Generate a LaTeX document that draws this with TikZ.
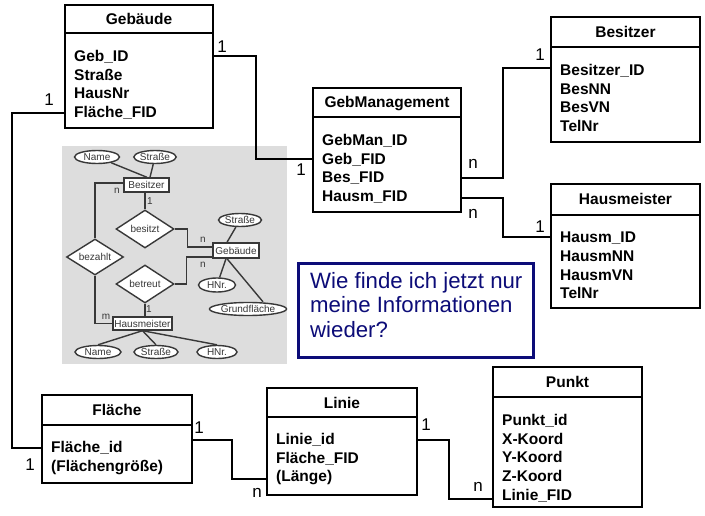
\documentclass[tikz,border=0pt]{standalone}
\usepackage{fontspec}
\setmainfont{Liberation Sans}
\usepackage{tikz}
\usetikzlibrary{positioning,shapes.geometric,calc}
\definecolor{navyq}{HTML}{0C0C78}
\definecolor{ergray}{HTML}{DDDDDD}
\definecolor{erink}{HTML}{383838}
\tikzset{
  tablehead/.style={
    rectangle, draw=black, line width=2pt, fill=white,
    outer sep=0pt, inner sep=0pt,
    font=\fontsize{15.5}{18.7}\selectfont\bfseries,
    text height=11pt, text depth=0pt
  },
  tablebody/.style={
    rectangle, draw=black, line width=2pt, fill=white,
    outer sep=0pt, inner sep=0pt
  },
  attrtext/.style={
    anchor=north west, inner sep=0pt, align=left,
    font=\fontsize{15.5}{18.7}\selectfont\bfseries
  },
  relline/.style={line width=1.6pt, draw=black},
  cardlabel/.style={font=\fontsize{17}{17}\selectfont, inner sep=0pt},
  % -- small ER sketch --
  erentity/.style={
    rectangle, draw=erink, line width=1.4pt, fill=white, inner sep=0pt,
    font=\fontsize{10}{11}\selectfont, text=erink
  },
  errel/.style={
    diamond, aspect=1.6, draw=erink, line width=1.4pt, fill=white,
    inner sep=0pt, minimum width=57pt, minimum height=36pt,
    font=\fontsize{10}{11}\selectfont, text=erink
  },
  erattr/.style={
    ellipse, draw=erink, line width=1.4pt, fill=white, inner sep=0pt,
    minimum height=13pt, font=\fontsize{10}{11}\selectfont, text=erink
  },
  erline/.style={line width=1.4pt, draw=erink},
  ercard/.style={font=\fontsize{10}{11}\selectfont, text=erink, inner sep=0pt},
  questbox/.style={rectangle, draw=navyq, line width=3pt, fill=white},
  questtext/.style={
    anchor=north west, inner sep=0pt, align=left, text=navyq,
    font=\fontsize{22.2}{24.5}\selectfont
  },
}
\begin{document}
\begin{tikzpicture}[x=1pt, y=-1pt]
\fill[white] (0,0) rectangle (705,516);
\useasboundingbox (0,0) rectangle (705,516);

% grey panel of the ER sketch, under the relation lines
\fill[ergray] (62,146) rectangle (287,364);

% Tables
\node[tablehead, minimum width=148pt, minimum height=28pt, anchor=north west] (geb) at (65,5) {Gebäude};
\node[tablebody, minimum width=148pt, minimum height=95pt, below=0pt of geb] (gebB) {};
\node[attrtext] (gebA) at ([xshift=9pt,yshift=-17pt]gebB.north west) {Geb\_ID\\Straße\\HausNr\\Fläche\_FID};

\node[tablehead, minimum width=148pt, minimum height=29pt, anchor=north west] (gm) at (313,88) {GebManagement};
\node[tablebody, minimum width=148pt, minimum height=95pt, below=0pt of gm] (gmB) {};
\node[attrtext] (gmA) at ([xshift=9pt,yshift=-17pt]gmB.north west) {GebMan\_ID\\Geb\_FID\\Bes\_FID\\Hausm\_FID};

\node[tablehead, minimum width=149pt, minimum height=30pt, anchor=north west] (bes) at (551,17) {Besitzer};
\node[tablebody, minimum width=149pt, minimum height=95pt, below=0pt of bes] (besB) {};
\node[attrtext] (besA) at ([xshift=9pt,yshift=-17pt]besB.north west) {Besitzer\_ID\\BesNN\\BesVN\\TelNr};

\node[tablehead, minimum width=149pt, minimum height=31pt, anchor=north west] (hm) at (551,184) {Hausmeister};
\node[tablebody, minimum width=149pt, minimum height=93pt, below=0pt of hm] (hmB) {};
\node[attrtext] (hmA) at ([xshift=9pt,yshift=-17pt]hmB.north west) {Hausm\_ID\\HausmNN\\HausmVN\\TelNr};

\node[tablehead, minimum width=150pt, minimum height=30pt, anchor=north west] (fl) at (42,395) {Fläche};
\node[tablebody, minimum width=150pt, minimum height=58pt, below=0pt of fl] (flB) {};
\node[attrtext] (flA) at ([xshift=9pt,yshift=-16pt]flB.north west) {Fläche\_id\\(Flächengröße)};

\node[tablehead, minimum width=150pt, minimum height=29pt, anchor=north west] (li) at (267,388) {Linie};
\node[tablebody, minimum width=150pt, minimum height=78pt, below=0pt of li] (liB) {};
\node[attrtext] (liA) at ([xshift=9pt,yshift=-16pt]liB.north west) {Linie\_id\\Fläche\_FID\\(Länge)};

\node[tablehead, minimum width=149pt, minimum height=30pt, anchor=north west] (pu) at (493,367) {Punkt};
\node[tablebody, minimum width=149pt, minimum height=110pt, below=0pt of pu] (puB) {};
\node[attrtext] (puA) at ([xshift=9pt,yshift=-17pt]puB.north west) {Punkt\_id\\X-Koord\\Y-Koord\\Z-Koord\\Linie\_FID};

% Relations between tables
\draw[relline] ([yshift=24.5pt]gebB.east) -- ++(43pt,0) |- ([yshift=5.5pt]gmB.west);
\draw[relline] ([yshift=-32.5pt]gebB.west) -- ++(-53pt,0) |- ([yshift=6pt]flB.west);
\draw[relline] ([yshift=-13.5pt]gmB.east) -- ++(42pt,0) |- ([yshift=26.5pt]besB.west);
\draw[relline] ([yshift=-33.5pt]gmB.east) -- ++(42pt,0) |- ([yshift=24.5pt]hmB.west);
\draw[relline] ([yshift=14pt]flB.east) -- ++(40pt,0) |- ([yshift=-23pt]liB.west);
\draw[relline] ([yshift=16pt]liB.east) -- ++(32pt,0) |- ([yshift=-47pt]puB.west);

% Cardinalities
\node[cardlabel] (c1) at (222,47) {1};
\node[cardlabel] (c2) at (301,170) {1};
\node[cardlabel] (c3) at (49,100) {1};
\node[cardlabel] (c4) at (30,465) {1};
\node[cardlabel] (c5) at (199,428) {1};
\node[cardlabel] (c6) at (257,493) {n};
\node[cardlabel] (c7) at (426,425) {1};
\node[cardlabel] (c8) at (478,487) {n};
\node[cardlabel] (c9) at (473,164) {n};
\node[cardlabel] (c10) at (540,55) {1};
\node[cardlabel] (c11) at (473,214) {n};
\node[cardlabel] (c12) at (540,227) {1};

% Question
\node[questbox, minimum width=235pt, minimum height=94pt, anchor=north west] (quest) at (297,262) {};
\node[questtext] (questT) at ([xshift=13pt,yshift=-10pt]quest.north west) {Wie finde ich jetzt nur\\meine Informationen\\wieder?};

% ER sketch
\node[erentity, minimum width=45pt, minimum height=14pt] (erBes) at (146.5,185) {Besitzer};
\node[erentity, minimum width=46pt, minimum height=15pt] (erGeb) at (236,250.5) {Gebäude};
\node[erentity, minimum width=59pt, minimum height=13pt] (erHm) at (142.5,323.5) {Hausmeister};
\node[errel] (erBezahlt) at (95,257) {bezahlt};
\node[errel, minimum width=58pt, minimum height=38pt] (erBesitzt) at (145,229) {besitzt};
\node[errel, minimum width=58pt, minimum height=38pt] (erBetreut) at (145,284) {betreut};
\node[erattr, minimum width=45pt] (erName1) at (97,157) {Name};
\node[erattr, minimum width=41pt] (erStr1) at (155,157) {Straße};
\node[erattr, minimum width=43pt] (erStr2) at (240,220) {Straße};
\node[erattr, minimum width=37pt, minimum height=14pt] (erHNr1) at (217,285) {HNr.};
\node[erattr, minimum width=69pt] (erGrund) at (248,309) {Grundfläche};
\node[erattr, minimum width=46pt] (erName2) at (98,352) {Name};
\node[erattr, minimum width=44pt] (erStr3) at (156,352) {Straße};
\node[erattr, minimum width=40pt] (erHNr2) at (217,352) {HNr.};

\draw[erline] (erName1) -- ([xshift=0.5pt]erBes.north);
\draw[erline] (erStr1) -- ([xshift=3.5pt]erBes.north);
\draw[erline] ([yshift=2pt]erBes.west) -| (erBezahlt.north);
\draw[erline] (erBezahlt.south) |- (erHm.west);
\draw[erline] (erBesitzt.north |- erBes.south) -- (erBesitzt.north);
\draw[erline] (erBesitzt.east) -- ++(13pt,0) |- ([yshift=3.5pt]erGeb.west);
\draw[erline] (erBetreut.east) -- ++(12pt,0) |- ([yshift=-6.5pt]erGeb.west);
\draw[erline] (erBetreut.south) -- (erBetreut.south |- erHm.north);
\draw[erline] ([xshift=-9pt]erGeb.north) -- (erStr2);
\draw[erline] ([xshift=-10pt]erGeb.south) -- (erHNr1);
\draw[erline] ([xshift=-9pt]erGeb.south) -- ([xshift=15pt]erGrund.north);
\draw[erline] (erHm.south) -- (erName2.north);
\draw[erline] (erHm.south) -- (erStr3.north);
\draw[erline] (erHm.south) -- (erHNr2.north);

\node[ercard] (erc1) at (117,191) {n};
\node[ercard] (erc2) at (150,201) {1};
\node[ercard] (erc3) at (203,240) {n};
\node[ercard] (erc4) at (203,265) {n};
\node[ercard] (erc5) at (149,309) {1};
\node[ercard] (erc6) at (106,317) {m};

\end{tikzpicture}
\end{document}
